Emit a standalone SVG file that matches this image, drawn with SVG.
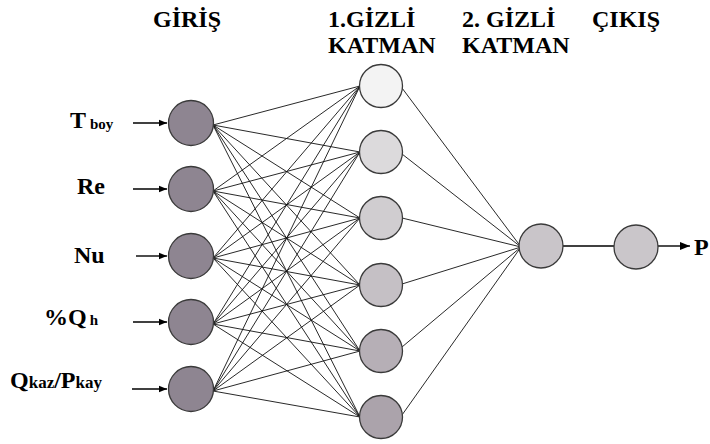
<svg xmlns="http://www.w3.org/2000/svg" width="710" height="444" viewBox="0 0 710 444">
<defs>
<style>
text{font-family:'Liberation Serif','DejaVu Serif',serif;font-weight:bold;fill:#000}
.h{font-size:24px}
.s{font-size:15px}
.n{stroke:#3a3a3a;stroke-width:1.3}
.e{stroke:#111;stroke-width:0.9;fill:none}
.a{stroke:#000;stroke-width:1.4;fill:none}
</style>
<marker id="ah" viewBox="0 0 10 10" refX="10" refY="5" markerWidth="8" markerHeight="8" markerUnits="userSpaceOnUse" orient="auto"><path d="M0,1 L10,5 L0,9 Z" fill="#000"/></marker>
<marker id="ah2" viewBox="0 0 10 10" refX="10" refY="5" markerWidth="10" markerHeight="10" markerUnits="userSpaceOnUse" orient="auto"><path d="M0,1 L10,5 L0,9 Z" fill="#000"/></marker>
</defs>
<rect width="710" height="444" fill="#fff"/>
<g id="titles">
<text class="h" x="153" y="27">GİRİŞ</text>
<text class="h" x="328" y="27">1.GİZLİ</text>
<text class="h" x="328" y="53">KATMAN</text>
<text class="h" x="462" y="27">2. GİZLİ</text>
<text class="h" x="462" y="53">KATMAN</text>
<text class="h" x="592" y="27">ÇIKIŞ</text>
</g>
<g id="connectors">
<g class="e">
<path d="M213,125 L360,86 M213,125 L360,152 M213,125 L360,218 M213,125 L360,285 M213,125 L360,351 M213,125 L360,417"/>
<path d="M213,191 L360,86 M213,191 L360,152 M213,191 L360,218 M213,191 L360,285 M213,191 L360,351 M213,191 L360,417"/>
<path d="M213,258 L360,86 M213,258 L360,152 M213,258 L360,218 M213,258 L360,285 M213,258 L360,351 M213,258 L360,417"/>
<path d="M213,324 L360,86 M213,324 L360,152 M213,324 L360,218 M213,324 L360,285 M213,324 L360,351 M213,324 L360,417"/>
<path d="M213,391 L360,86 M213,391 L360,152 M213,391 L360,218 M213,391 L360,285 M213,391 L360,351 M213,391 L360,417"/>
<path d="M402,88 L521,247 M402,154 L521,247 M402,218 L521,247 M402,284 L521,247 M402,347 L521,247 M402,415 L521,247"/>
</g>
<path class="a" d="M563,246 L614,246"/>
<path class="a" d="M658,246 L690,246" marker-end="url(#ah2)"/>
<path class="a" d="M133,123 L167,123" marker-end="url(#ah)"/>
<path class="a" d="M133,189 L167,189" marker-end="url(#ah)"/>
<path class="a" d="M136,256 L167,256" marker-end="url(#ah)"/>
<path class="a" d="M133,322 L167,322" marker-end="url(#ah)"/>
<path class="a" d="M132,389 L167,389" marker-end="url(#ah)"/>
</g>
<g id="in1"><circle class="n" cx="191" cy="123" r="22.5" fill="#8e8591"/><text class="h" x="70" y="128">T<tspan class="s" dx="4" dy="1">boy</tspan></text></g>
<g id="in2"><circle class="n" cx="191" cy="189" r="22.5" fill="#8e8591"/><text class="h" x="77" y="194">Re</text></g>
<g id="in3"><circle class="n" cx="191" cy="256" r="22.5" fill="#8e8591"/><text class="h" x="74" y="263">Nu</text></g>
<g id="in4"><circle class="n" cx="191" cy="322" r="22.5" fill="#8e8591"/><text class="h" x="44" y="325">%Q<tspan class="s" dx="3">h</tspan></text></g>
<g id="in5"><circle class="n" cx="191" cy="389" r="22.5" fill="#8e8591"/><text class="h" x="10" y="388">Q<tspan style="font-size:17px">kaz</tspan>/P<tspan style="font-size:17px">kay</tspan></text></g>
<g id="h1"><circle class="n" cx="381" cy="86" r="21.5" fill="#f3f3f3"/></g>
<g id="h2"><circle class="n" cx="381" cy="152" r="21.5" fill="#dcdadc"/></g>
<g id="h3"><circle class="n" cx="381" cy="218" r="21.5" fill="#d0cdd0"/></g>
<g id="h4"><circle class="n" cx="381" cy="285" r="21.5" fill="#c5c0c5"/></g>
<g id="h5"><circle class="n" cx="381" cy="351" r="21.5" fill="#b6afb6"/></g>
<g id="h6"><circle class="n" cx="381" cy="417" r="21.5" fill="#aba3ab"/></g>
<g id="h2n"><circle class="n" cx="541" cy="246" r="22" fill="#c9c5c9"/></g>
<g id="out"><circle class="n" cx="636" cy="247" r="22" fill="#cac6ca"/><text class="h" x="694" y="255">P</text></g>
</svg>
